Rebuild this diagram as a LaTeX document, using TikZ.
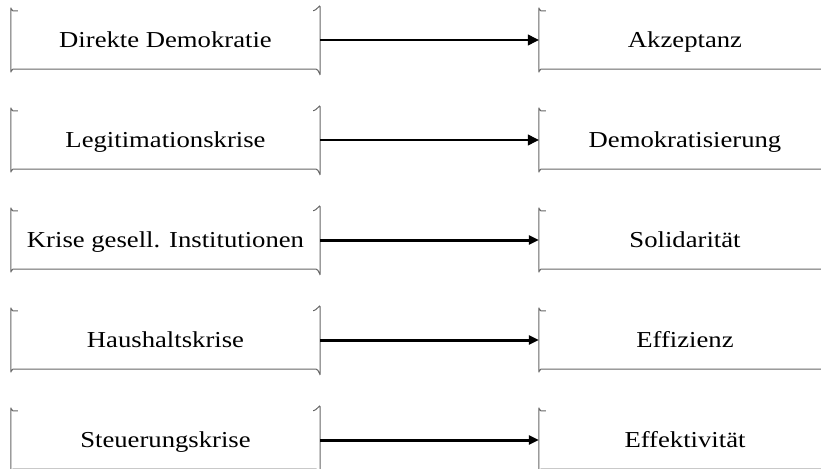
\documentclass[tikz,border=0pt]{standalone}
\usepackage{fontspec}
\setmainfont[FakeStretch=1.17]{Liberation Serif}
\usetikzlibrary{arrows.meta}
\tikzset{
  box/.style={minimum height=58pt, inner sep=0pt, text height=15pt, text depth=0pt,
    font=\fontsize{22.8}{26}\selectfont},
  lbox/.style={box, minimum width=309pt},
  rbox/.style={box, minimum width=292pt},
  bracket/.style={draw=black!60, line width=1pt},
  thinarrow/.style={-{Triangle[length=11pt,width=11pt]}, line width=1.2pt},
  thickarrow/.style={-{Triangle[length=10pt,width=9pt]}, line width=3pt},
}
\begin{document}
\begin{tikzpicture}[x=1pt,y=-1pt]
\clip (0,0) rectangle (821,468);
\node[lbox] (ursache1) at (165.5,40) {Direkte Demokratie};
\node[rbox] (folge1) at (685,40) {Akzeptanz};
\node[lbox] (ursache2) at (165.5,140) {Legitimationskrise};
\node[rbox] (folge2) at (685,140) {Demokratisierung};
\node[lbox] (ursache3) at (165.5,240) {Krise gesell. Institutionen};
\node[rbox] (folge3) at (685,240) {Solidarität};
\node[lbox] (ursache4) at (165.5,340) {Haushaltskrise};
\node[rbox] (folge4) at (685,340) {Effizienz};
\node[lbox] (ursache5) at (165.5,440) {Steuerungskrise};
\node[rbox] (folge5) at (685,440) {Effektivität};
% offene Kaesten
\foreach \n in {ursache1,folge1,ursache2,folge2,ursache3,folge3,ursache4,folge4,ursache5,folge5}
  \draw[bracket] ([xshift=7pt]\n.north west) -- ([xshift=2pt]\n.north west)
    to[out=180,in=90] ([yshift=2.5pt]\n.north west) -- ([yshift=-2.5pt]\n.south west)
    to[out=-90,in=180] ([xshift=2pt]\n.south west) -- ([xshift=-4pt]\n.south east)
    to[out=0,in=-90] ([yshift=-5pt]\n.south east) -- ([yshift=4pt]\n.north east)
    to[out=90,in=0] ([xshift=-7pt]\n.north east);
\draw[thinarrow] (ursache1) -- (folge1);
\draw[thinarrow] (ursache2) -- (folge2);
\draw[thickarrow] (ursache3) -- (folge3);
\draw[thickarrow] (ursache4) -- (folge4);
\draw[thickarrow] (ursache5) -- (folge5);
\end{tikzpicture}
\end{document}
